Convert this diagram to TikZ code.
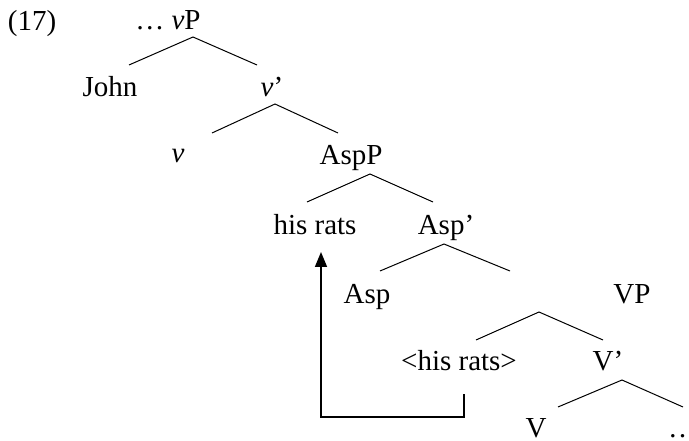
\documentclass[tikz,border=0pt]{standalone}
\usepackage{fontspec}
\setmainfont{Liberation Serif}
\usetikzlibrary{arrows.meta}
\begin{document}
\begin{tikzpicture}[x=1pt,y=-1pt,
  lab/.style={anchor=base,inner sep=0pt,font=\fontsize{29}{32}\selectfont},
  branch/.style={line width=1pt},
  mv/.style={line width=1.6pt,-{Triangle[length=15pt,width=12pt]}}]
\useasboundingbox (0,0) rectangle (689,441);
% labels
\node[lab] (ex) at (32,31) {(17)};
\node[lab] (vP) at (168,29.5) {\ldots\ \textit{v}P};
\node[lab] (john) at (110,97) {John};
\node[lab] (vbar) at (272,97) {\textit{v}’};
\node[lab] (v) at (178,163) {\textit{v}};
\node[lab] (AspP) at (351,165) {AspP};
\node[lab] (hr) at (315,235) {his rats};
\node[lab] (Aspbar) at (446,235) {Asp’};
\node[lab] (Asp) at (367,303) {Asp};
\node[lab] (VP) at (632,303) {VP};
\node[lab] (thr) at (459,370) {<his rats>};
\node[lab] (Vbar) at (608,370) {V’};
\node[lab] (V) at (536,437) {V};
\node[lab,anchor=base west] (dots) at (668,437) {\ldots};
% branch points
\coordinate (a1) at (193,37);  \coordinate (l1) at (129,65);  \coordinate (r1) at (257,65);
\coordinate (a2) at (275,104); \coordinate (l2) at (212,133); \coordinate (r2) at (338,133);
\coordinate (a3) at (370,174); \coordinate (l3) at (307,202); \coordinate (r3) at (433,202);
\coordinate (a4) at (444,244); \coordinate (l4) at (380,271); \coordinate (r4) at (510,271);
\coordinate (a5) at (539,312); \coordinate (l5) at (476,340); \coordinate (r5) at (603,340);
\coordinate (a6) at (622,380); \coordinate (l6) at (558,407); \coordinate (r6) at (683,407);
\foreach \i in {1,...,6}{\draw[branch] (l\i) -- (a\i) -- (r\i);}
% movement arrow
\coordinate (mS) at (464,394);
\coordinate (mB) at (464,417);
\coordinate (mE) at (321,252);
\draw[mv] (mS) -- (mB) -| (mE);
\end{tikzpicture}
\end{document}
